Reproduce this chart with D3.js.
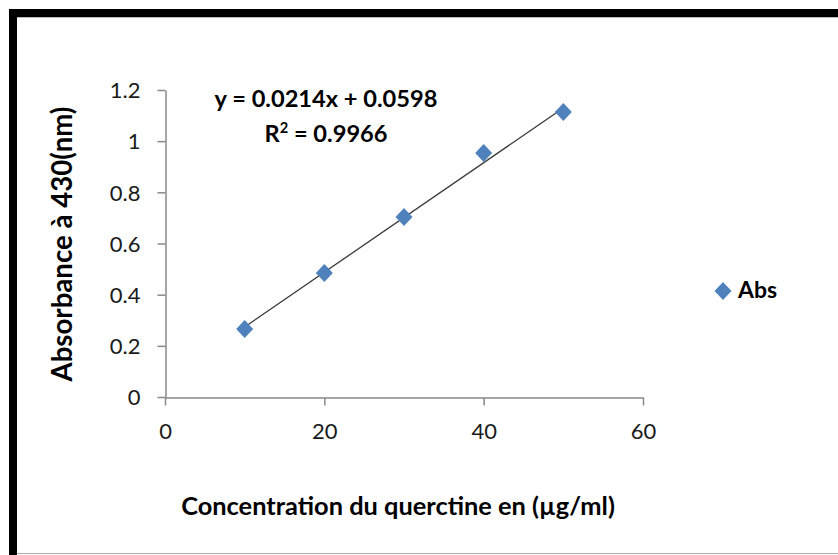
<!DOCTYPE html>
<html><head><meta charset="utf-8">
<script src="https://cdn.jsdelivr.net/npm/d3@7"></script>
<style>body{margin:0;background:#fff}svg{display:block}</style>
</head><body>
<script>
const concentrations = [10, 20, 30, 40, 50];
const absorbance = [0.266, 0.485, 0.704, 0.954, 1.114];
const xTicks = [0, 20, 40, 60];
const yTicks = [0, 0.2, 0.4, 0.6, 0.8, 1, 1.2];
const trendSlope = [0.0214];
const trendIntercept = [0.0598];
const equationLines = ["y = 0.0214x + 0.0598", "R² = 0.9966"];
const seriesName = ["Abs"];
const xTitle = "Concentration du querctine en (µg/ml)";
const yTitle = "Absorbance à 430(nm)";

const W = 838, H = 555;
const svg = d3.select("body").append("svg").attr("width", W).attr("height", H);
svg.append("rect").attr("width", W).attr("height", H).attr("fill", "#fff");

// frame
svg.append("rect").attr("x", 9).attr("y", 9).attr("width", W - 9).attr("height", 8).attr("fill", "#000");
svg.append("rect").attr("x", 9).attr("y", 9).attr("width", 8).attr("height", H - 9).attr("fill", "#000");
svg.append("line").attr("x1", 17).attr("x2", W).attr("y1", 17.5).attr("y2", 17.5).attr("stroke", "#bbb");
svg.append("line").attr("x1", 17).attr("x2", W).attr("y1", 553.5).attr("y2", 553.5).attr("stroke", "#aaa");

const x = d3.scaleLinear().domain([0, 60]).range([165, 643]);
const y = d3.scaleLinear().domain([0, 1.2]).range([397, 90]);
const fmt = d => String(d);

const gx = svg.append("g").attr("transform", "translate(0,397.5)")
  .call(d3.axisBottom(x).tickValues(xTicks).tickFormat(fmt).tickSize(8).tickSizeOuter(0).tickPadding(22));
const gy = svg.append("g").attr("transform", "translate(165.5,0)")
  .call(d3.axisLeft(y).tickValues(yTicks).tickFormat(fmt).tickSize(8).tickSizeOuter(0).tickPadding(17));
[gx, gy].forEach(g => {
  g.select(".domain").attr("stroke", "#888").attr("stroke-width", 1.5);
  g.selectAll(".tick line").attr("stroke", "#888").attr("stroke-width", 1.5);
  g.selectAll(".tick text").attr("font-family", "Lato, 'Open Sans', sans-serif").attr("font-size", 22).attr("fill", "#1a1a1a");
});
gy.selectAll(".tick text").attr("dy", "0.35em");
gx.selectAll(".tick text").attr("dy", "0.5em");

// trendline
const xr = d3.extent(concentrations);
svg.append("line")
  .attr("x1", x(xr[0])).attr("y1", y(trendSlope[0] * xr[0] + trendIntercept[0]))
  .attr("x2", x(xr[1])).attr("y2", y(trendSlope[0] * xr[1] + trendIntercept[0]))
  .attr("stroke", "#3a3a3a").attr("stroke-width", 1.3);

// markers
const diamond = (cx, cy) => `M${cx},${cy - 9}L${cx + 8.5},${cy}L${cx},${cy + 9}L${cx - 8.5},${cy}Z`;
svg.append("g").selectAll("path").data(concentrations).join("path")
  .attr("d", (d, i) => diamond(x(d), y(absorbance[i])))
  .attr("fill", "#4F81BD");

function fitText(sel, width) {
  const n = sel.node();
  const w = n.getComputedTextLength();
  const fs = parseFloat(sel.attr("font-size"));
  sel.attr("font-size", fs * width / w);
}

// equation
const eq1 = svg.append("text").attr("x", 326).attr("y", 107).attr("text-anchor", "middle")
  .attr("font-family", "Lato, sans-serif").attr("font-weight", "bold").attr("font-size", 20).attr("fill", "#000")
  .text(equationLines[0]);
fitText(eq1, 223);
const eqFs = parseFloat(eq1.attr("font-size"));
const eq2 = svg.append("text").attr("x", 326).attr("y", 142).attr("text-anchor", "middle")
  .attr("font-family", "Lato, sans-serif").attr("font-weight", "bold").attr("font-size", eqFs).attr("fill", "#000");
eq2.append("tspan").text("R");
eq2.append("tspan").attr("dy", -9).attr("font-size", eqFs * 0.62).text("2");
eq2.append("tspan").attr("dy", 9).text(" = 0.9966");

// axis titles
const xt = svg.append("text").attr("x", 398).attr("y", 515).attr("text-anchor", "middle")
  .attr("font-family", "Lato, sans-serif").attr("font-weight", "bold").attr("font-size", 20).attr("fill", "#000")
  .text(xTitle);
fitText(xt, 434);
const yt = svg.append("text").attr("transform", "translate(72,244) rotate(-90)").attr("text-anchor", "middle")
  .attr("font-family", "Lato, sans-serif").attr("font-weight", "bold").attr("font-size", 20).attr("fill", "#000")
  .text(yTitle);
fitText(yt, 275);

// legend
svg.append("path").attr("d", diamond(723, 291)).attr("fill", "#4F81BD");
const lt = svg.append("text").attr("x", 738).attr("y", 298)
  .attr("font-family", "Lato, sans-serif").attr("font-weight", "bold").attr("font-size", 20).attr("fill", "#000")
  .text(seriesName[0]);
fitText(lt, 39);
</script>
</body></html>
